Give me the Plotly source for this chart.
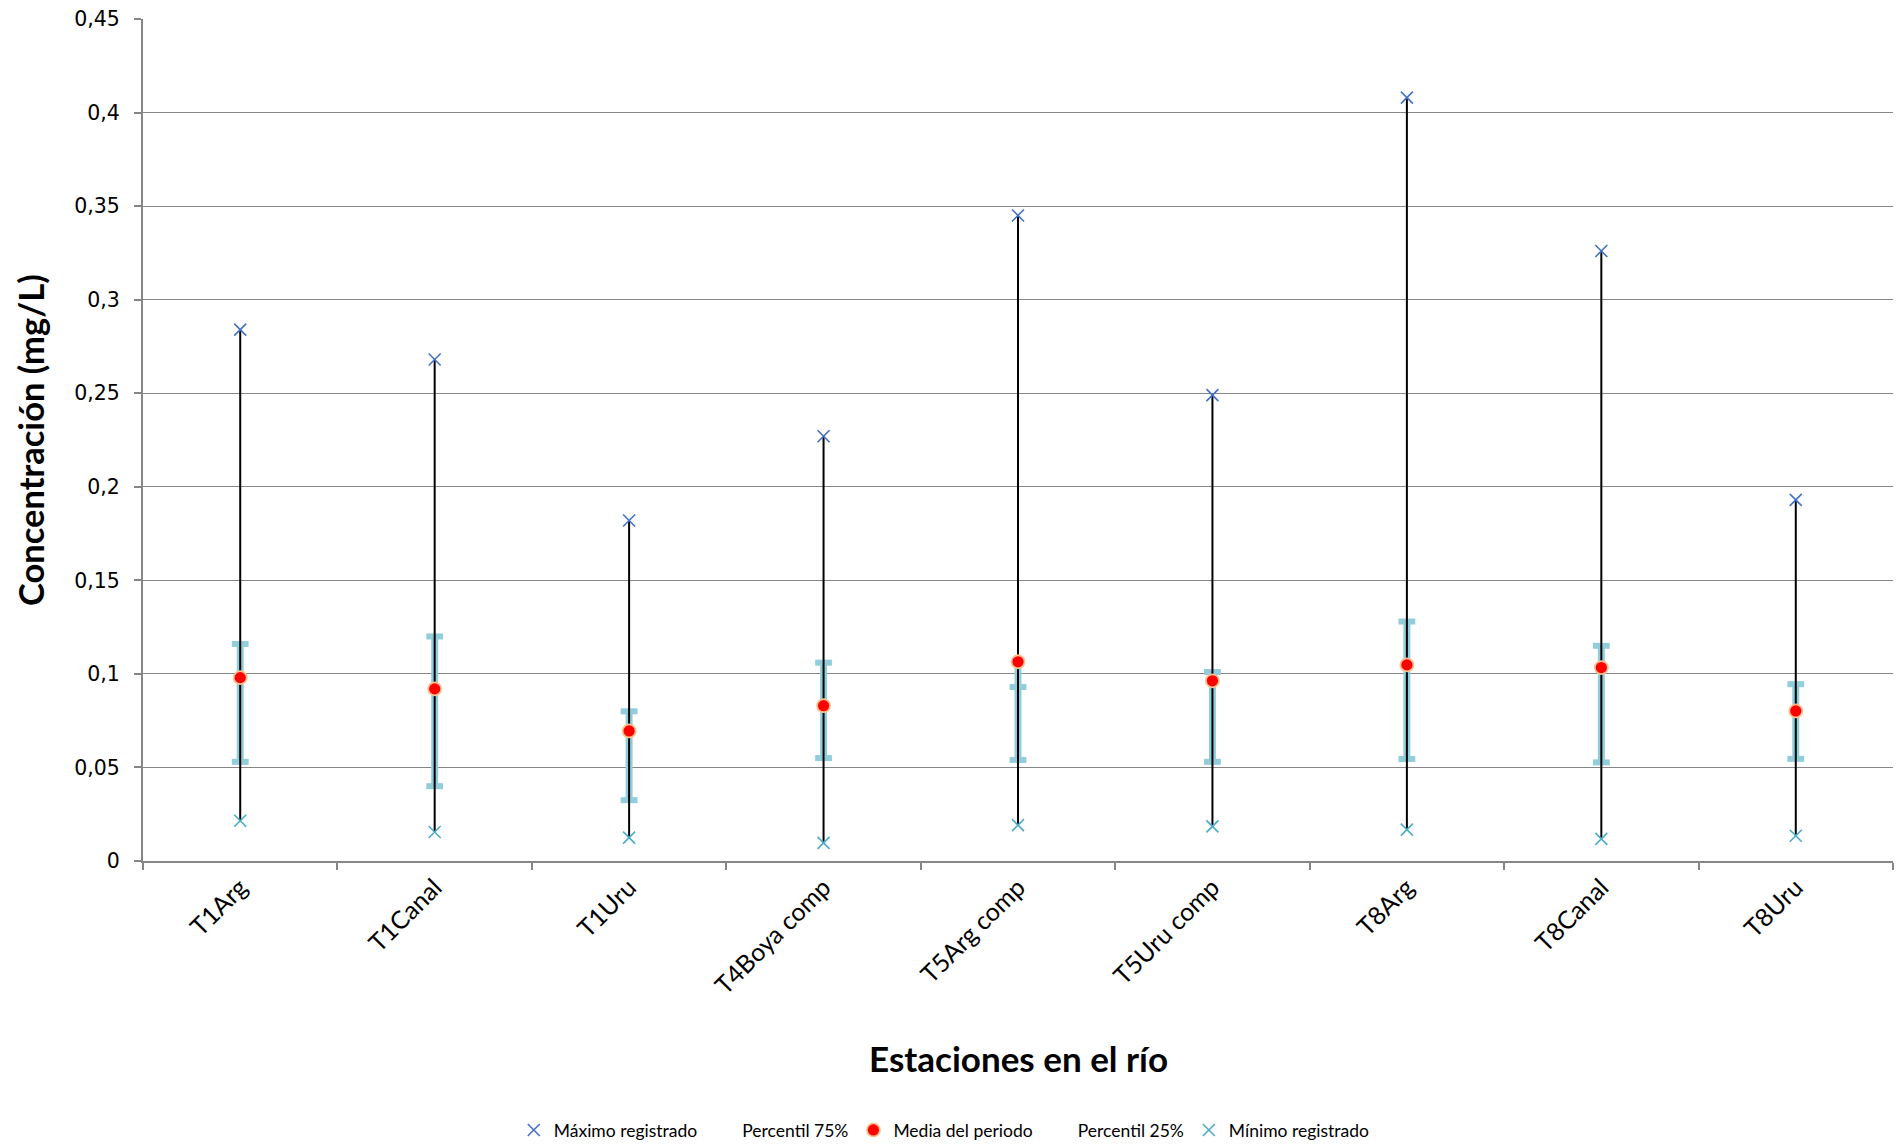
import plotly.graph_objects as go

categories = ["T1Arg", "T1Canal", "T1Uru", "T4Boya comp", "T5Arg comp",
              "T5Uru comp", "T8Arg", "T8Canal", "T8Uru"]
maximo = [0.284, 0.268, 0.182, 0.227, 0.345, 0.249, 0.408, 0.326, 0.193]
p75 = [0.116, 0.120, 0.080, 0.106, 0.093, 0.101, 0.128, 0.115, 0.0945]
media = [0.098, 0.092, 0.0695, 0.083, 0.1065, 0.0963, 0.1048, 0.1034, 0.0802]
p25 = [0.053, 0.040, 0.0325, 0.055, 0.054, 0.053, 0.0545, 0.0527, 0.0546]
minimo = [0.0215, 0.0155, 0.0125, 0.0097, 0.0192, 0.0185, 0.0168, 0.0118, 0.0135]

LIGHT = "#92CDDC"
GRID = "#868686"

def segs(lo, hi):
    xs, ys = [], []
    for c, a, b in zip(categories, lo, hi):
        xs += [c, c, None]
        ys += [a, b, None]
    return xs, ys

fig = go.Figure()

# light blue bar between percentiles (and mean)
bar_lo = [min(a, m) for a, m in zip(p25, media)]
bar_hi = [max(b, m) for b, m in zip(p75, media)]
bx, by = segs(bar_lo, bar_hi)
fig.add_trace(go.Scatter(x=bx, y=by, mode="lines", line=dict(color=LIGHT, width=7),
                         showlegend=False, hoverinfo="skip"))
# caps
fig.add_trace(go.Scatter(x=categories + categories, y=p75 + p25, mode="markers",
                         marker=dict(symbol="line-ew", size=12, line=dict(color=LIGHT, width=6)),
                         showlegend=False, hoverinfo="skip"))
# black high-low lines
lx, ly = segs(minimo, maximo)
fig.add_trace(go.Scatter(x=lx, y=ly, mode="lines", line=dict(color="black", width=2),
                         showlegend=False, hoverinfo="skip"))

fig.add_trace(go.Scatter(x=categories, y=maximo, mode="markers", name="Máximo registrado",
                         marker=dict(symbol="x-thin", size=12, line=dict(color="#4472C4", width=1.6)),
                         legendrank=1))
fig.add_trace(go.Scatter(x=categories, y=p75, mode="markers", name="Percentil 75%",
                         marker=dict(size=8, color="rgba(0,0,0,0)"), legendrank=2, hoverinfo="skip"))
fig.add_trace(go.Scatter(x=categories, y=media, mode="markers", name="Media del periodo",
                         marker=dict(symbol="circle", size=13, color="#FF0000",
                                     line=dict(color="#FAC090", width=1.8)),
                         legendrank=3))
fig.add_trace(go.Scatter(x=categories, y=p25, mode="markers", name="Percentil 25%",
                         marker=dict(size=8, color="rgba(0,0,0,0)"), legendrank=4, hoverinfo="skip"))
fig.add_trace(go.Scatter(x=categories, y=minimo, mode="markers", name="Mínimo registrado",
                         marker=dict(symbol="x-thin", size=12, line=dict(color="#4BACC6", width=1.6)),
                         legendrank=5))

fig.update_layout(
    width=1903, height=1145,
    margin=dict(l=135, r=18, t=11, b=292, autoexpand=False),
    paper_bgcolor="white", plot_bgcolor="white",
    separators=",.",
    font=dict(family="Lato", color="black"),
    legend=dict(orientation="h", xref="container", x=0.492, xanchor="center",
                yref="container", y=0.02, yanchor="middle",
                font=dict(family="Lato", size=17.5), itemwidth=30,
                traceorder="normal"),
    xaxis=dict(type="category", categoryorder="array", categoryarray=categories,
               range=[-0.5, 8.5], tickson="boundaries", ticks="outside", ticklen=7,
               tickcolor=GRID, tickwidth=1.5, showline=True, linecolor=GRID, linewidth=2,
               showgrid=False, tickangle=-45, automargin=False,
               tickfont=dict(family="Lato", size=25)),
    yaxis=dict(range=[0, 0.45], dtick=0.05, tick0=0, showgrid=True, gridcolor=GRID,
               gridwidth=1, showline=True, linecolor=GRID, linewidth=2, ticks="outside",
               ticklen=7, tickcolor=GRID, tickwidth=1.5, zeroline=False,
               ticklabeloverflow="allow", automargin=False,
               tickfont=dict(family="DejaVu Sans", size=20.5), ticklabelstandoff=10),
    annotations=[
        dict(text="<b>Estaciones en el río</b>", xref="paper", yref="paper", x=0.5, y=-0.2335,
             xanchor="center", yanchor="middle", showarrow=False,
             font=dict(family="Lato", size=35)),
        dict(text="<b>Concentración (mg/L)</b>", xref="paper", yref="paper", x=-0.0646, y=0.5,
             xanchor="center", yanchor="middle", textangle=-90, showarrow=False,
             font=dict(family="Lato", size=34.5)),
    ],
)

fig.write_html("out.html")
